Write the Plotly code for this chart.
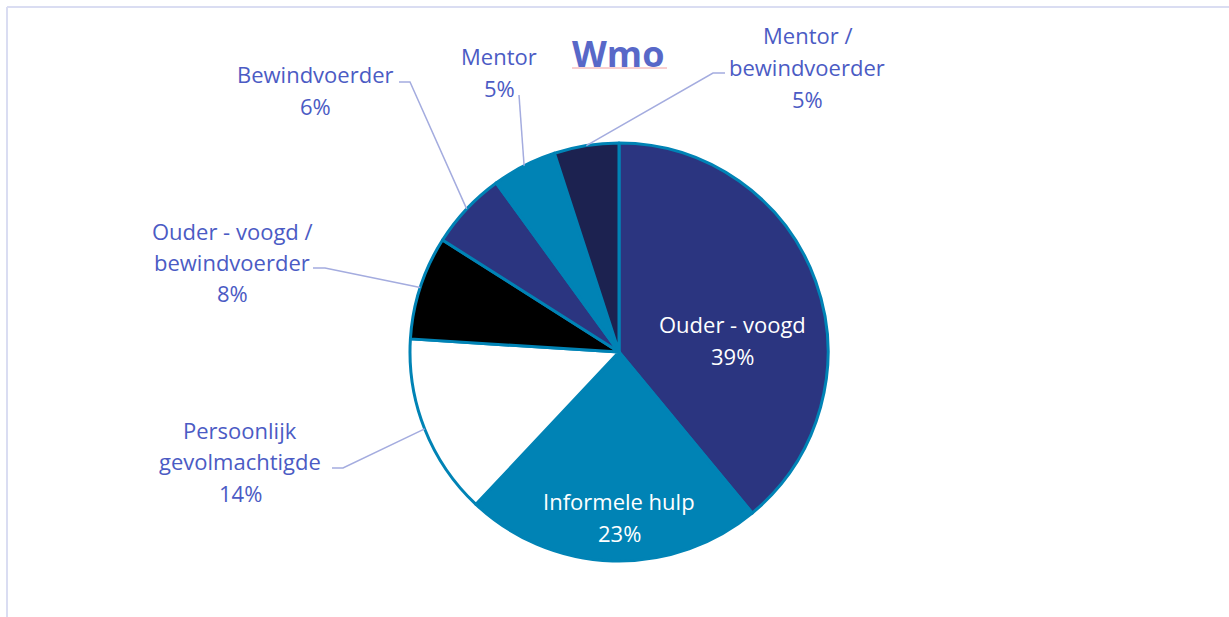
import math
import plotly.graph_objects as go

# ---- data ----
labels = ["Ouder - voogd", "Informele hulp", "Persoonlijk gevolmachtigde",
          "Ouder - voogd / bewindvoerder", "Bewindvoerder", "Mentor",
          "Mentor / bewindvoerder"]
label_lines = [["Ouder - voogd"], ["Informele hulp"], ["Persoonlijk", "gevolmachtigde"],
               ["Ouder - voogd /", "bewindvoerder"], ["Bewindvoerder"], ["Mentor"],
               ["Mentor /", "bewindvoerder"]]
values = [39, 23, 14, 8, 6, 5, 5]
colors = ["#2B3580", "#0083B5", "#FFFFFF", "#000000", "#2B3580", "#0083B5", "#1C2250"]
title_text = "Wmo"

# ---- layout ----
W, H = 1229, 617
CX, CY, R = 619, 352, 209
TXT = "#4B5BC4"
LINE = "#A4ACDF"
FONT = "Open Sans"
FS = 22
LH = 31.5  # line spacing in px

def fx(x):
    return x / W

def fy(y):
    return 1 - y / H

fig = go.Figure(go.Pie(
    labels=labels,
    values=values,
    sort=False,
    direction="clockwise",
    rotation=0,
    marker=dict(colors=colors, line=dict(color="#0083B5", width=3)),
    textinfo="none",
    hoverinfo="label+percent",
    domain=dict(x=[fx(CX - R), fx(CX + R)], y=[fy(CY + R), fy(CY - R)]),
    showlegend=False,
))

# label placement (pixel coordinates of label centre, inside flag, elbow)
placement = {
    0: dict(pos=(732, 340), inside=True),
    1: dict(pos=(619, 517), inside=True),
    2: dict(pos=(240, 461), inside=False, elbow=[(332, 468), (343, 468)]),
    3: dict(pos=(232, 262), inside=False, elbow=[(313, 268), (325, 268)]),
    4: dict(pos=(315, 90), inside=False, elbow=[(399, 82), (410, 82)]),
    5: dict(pos=(499, 72), inside=False, elbow=[(519, 95)]),
    6: dict(pos=(807, 67), inside=False, elbow=[(725, 73), (713, 73)]),
}

total = sum(values)
annotations = []
shapes = []
cum = 0
for i, (lines, v) in enumerate(zip(label_lines, values)):
    mid = (cum + v / 2) / total * 2 * math.pi
    cum += v
    p = placement[i]
    all_lines = lines + [f"{round(v / total * 100)}%"]
    n = len(all_lines)
    for k, t in enumerate(all_lines):
        yy = p["pos"][1] + (k - (n - 1) / 2) * LH
        annotations.append(dict(
            x=fx(p["pos"][0]), y=fy(yy), xref="paper", yref="paper",
            text=t, showarrow=False, align="center",
            font=dict(family=FONT, size=FS, color="#FFFFFF" if p["inside"] else TXT),
            xanchor="center", yanchor="middle",
        ))
    if not p["inside"]:
        ex = CX + R * math.sin(mid)
        ey = CY - R * math.cos(mid)
        pts = p["elbow"] + [(ex, ey)]
        path = "M " + " L ".join(f"{fx(x)},{fy(y)}" for x, y in pts)
        shapes.append(dict(type="path", path=path, xref="paper", yref="paper",
                           line=dict(color=LINE, width=1.5)))

# title
annotations.append(dict(
    x=fx(618), y=fy(54), xref="paper", yref="paper", showarrow=False,
    text=f"<b>{title_text}</b>", xanchor="center", yanchor="middle",
    font=dict(family=FONT, size=36, color="#5868C8"),
))
shapes.append(dict(type="line", xref="paper", yref="paper",
                   x0=fx(572), x1=fx(667), y0=fy(68), y1=fy(68),
                   line=dict(color="#F2A0A0", width=1)))

# frame (top + left visible)
shapes.append(dict(type="line", xref="paper", yref="paper",
                   x0=fx(7), x1=1.0, y0=fy(7), y1=fy(7),
                   line=dict(color="#DADDF2", width=2)))
shapes.append(dict(type="line", xref="paper", yref="paper",
                   x0=fx(7), x1=fx(7), y0=fy(7), y1=0,
                   line=dict(color="#DADDF2", width=2)))

fig.update_layout(
    width=W, height=H,
    margin=dict(l=0, r=0, t=0, b=0),
    paper_bgcolor="#FFFFFF",
    plot_bgcolor="#FFFFFF",
    annotations=annotations,
    shapes=shapes,
    font=dict(family=FONT),
)

fig.write_html("out.html",
               config={"displayModeBar": False},
               post_script="document.body.style.margin='0';document.body.style.overflow='hidden';")
